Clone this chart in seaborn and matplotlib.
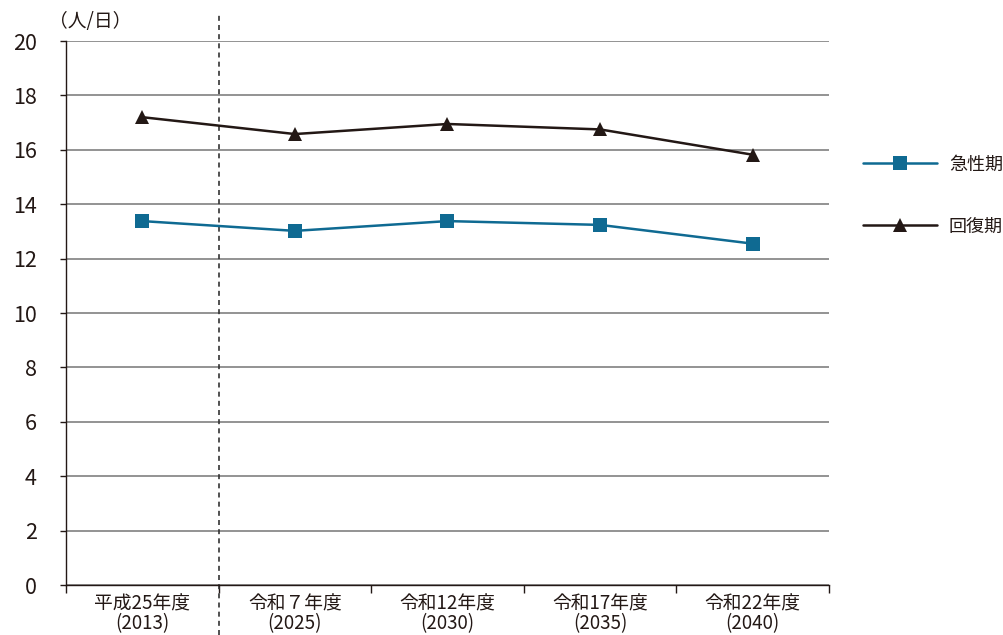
import numpy as np
import pandas as pd
import seaborn as sns
import matplotlib.pyplot as plt

# データ
categories = ["平成25年度\n(2013)", "令和７年度\n(2025)", "令和12年度\n(2030)",
              "令和17年度\n(2035)", "令和22年度\n(2040)"]
kyuseiki = [13.38, 13.02, 13.38, 13.24, 12.55]
kaifukuki = [17.2, 16.58, 16.95, 16.75, 15.82]
series_names = ["急性期", "回復期"]
yticks = [0, 2, 4, 6, 8, 10, 12, 14, 16, 18, 20]

df = pd.DataFrame({
    "pos": list(range(len(categories))) * 2,
    "value": kyuseiki + kaifukuki,
    "series": [series_names[0]] * len(categories) + [series_names[1]] * len(categories),
})

sns.set_style("white")
plt.rcParams["font.family"] = ["Noto Sans CJK JP", "DejaVu Sans"]

fig = plt.figure(figsize=(10.04, 6.35), dpi=100)
ax = fig.add_axes([0.0657, 0.0787, 0.76, 0.8567])

colors = {"急性期": "#0f6a92", "回復期": "#231815"}
markers = {"急性期": "s", "回復期": "^"}

for name in series_names:
    sub = df[df["series"] == name]
    sns.lineplot(data=sub, x="pos", y="value", ax=ax, color=colors[name],
                 marker=markers[name], markersize=10, markeredgewidth=0,
                 linewidth=1.8, label=name, zorder=3)

ax.set_xlim(-0.5, 4.5)
ax.set_ylim(0, 20)
ax.set_yticks(yticks)
ax.set_yticklabels([str(v) for v in yticks], fontsize=15.5)
ax.yaxis.grid(True, color="#808080", linewidth=1.2)
ax.set_axisbelow(True)

# x軸: ラベルはカテゴリ中心、目盛りは境界
ax.set_xticks(range(len(categories)))
ax.set_xticklabels(categories, fontsize=13.5, linespacing=0.95)
ax.set_xticks(np.arange(-0.5, 4.6, 1.0), minor=True)
ax.tick_params(axis="x", which="major", bottom=True, length=0, pad=6)
ax.tick_params(axis="x", which="minor", bottom=True, length=6, width=1,
               color="#231815", direction="out")
ax.tick_params(axis="y", which="major", left=True, length=4, width=1,
               color="#231815", pad=17, direction="out")
for lab in ax.get_xticklabels() + ax.get_yticklabels():
    lab.set_color("#231815")

for side in ["top", "right"]:
    ax.spines[side].set_visible(False)
for side in ["left", "bottom"]:
    ax.spines[side].set_color("#231815")
    ax.spines[side].set_linewidth(1.0)

ax.set_xlabel("")
ax.set_ylabel("")

# 実績と推計の区切り線
ax.axvline(0.5, ymin=-0.092, ymax=1.053, clip_on=False, color="#333333",
           linestyle=(0, (3, 2.5)), linewidth=1.2)

ax.text(-0.022, 1.035, "（人/日）", transform=ax.transAxes, fontsize=13.5,
        color="#231815", ha="left", va="center")

leg = ax.legend(loc="upper left", bbox_to_anchor=(1.035, 0.803), frameon=False,
                fontsize=13, handlelength=4.1, handletextpad=0.65,
                labelspacing=2.45, borderaxespad=0)
for t in leg.get_texts():
    t.set_color("#231815")

fig.savefig("out.png", dpi=100)
